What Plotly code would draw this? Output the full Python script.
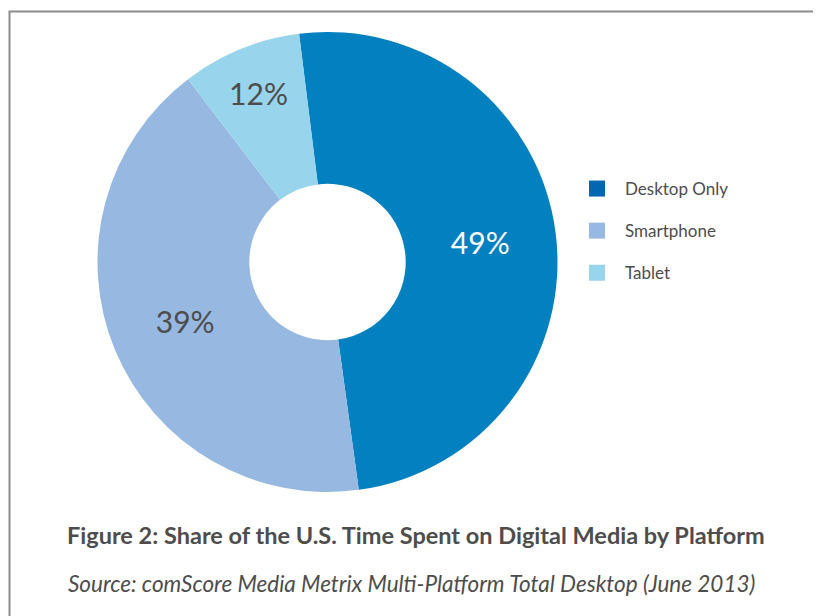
import plotly.graph_objects as go

# Data
platforms = ["Desktop Only", "Smartphone", "Tablet"]
slice_share = [49.8, 41.8, 8.4]          # arc sizes as drawn (percent of circle)
share_label = ["49%", "39%", "12%"]      # percentages printed on the slices

slice_colors = ["#0380c0", "#96b8e1", "#98d4ec"]
legend_colors = ["#0066b2", "#96b8e2", "#98d4ec"]
label_colors = ["#ffffff", "#4d4d4d", "#4d4d4d"]

title_text = "Figure 2: Share of the U.S. Time Spent on Digital Media by Platform"
source_text = "Source: comScore Media Metrix Multi-Platform Total Desktop (June 2013)"

W, H = 821, 616
OFF = 8  # page body margin offset


def px(x):
    return (x - OFF) / W


def py(y):
    return 1 - (y - OFF) / H


cx, cy, r = 327.5, 262.0, 230.0

fig = go.Figure()
fig.add_trace(go.Pie(
    labels=platforms,
    values=slice_share,
    text=share_label,
    texttemplate="%{text}",
    textposition="inside",
    insidetextorientation="horizontal",
    textfont=dict(family="Lato", size=30, color=label_colors),
    marker=dict(colors=slice_colors, line=dict(width=0)),
    hole=0.34,
    sort=False,
    direction="clockwise",
    rotation=-7.1,
    showlegend=False,
    domain=dict(x=[px(cx - r), px(cx + r)], y=[py(cy + r), py(cy - r)]),
))

for i, name in enumerate(platforms):
    fig.add_trace(go.Scatter(
        x=[None], y=[None], mode="markers", name=name,
        marker=dict(symbol="square", size=16, color=legend_colors[i]),
        legendgroup=name, showlegend=True, hoverinfo="skip",
    ))

fig.update_xaxes(visible=False)
fig.update_yaxes(visible=False)

fig.add_shape(type="rect", xref="paper", yref="paper",
              x0=px(9.5), x1=px(816), y0=-0.1, y1=py(11.5),
              line=dict(color="#8c8c8c", width=2), fillcolor="rgba(0,0,0,0)", layer="below")

fig.add_annotation(text="<b>" + title_text + "</b>", xref="paper", yref="paper",
                   x=px(416), y=py(535), showarrow=False, xanchor="center", yanchor="middle",
                   font=dict(family="Lato", size=23.5, color="#4d4d4d"))
fig.add_annotation(text="<i>" + source_text + "</i>", xref="paper", yref="paper",
                   x=px(411), y=py(583), showarrow=False, xanchor="center", yanchor="middle",
                   font=dict(family="Lato", size=22.5, color="#4d4d4d"))

fig.update_layout(
    width=W, height=H,
    margin=dict(l=0, r=0, t=0, b=0),
    paper_bgcolor="white", plot_bgcolor="white",
    legend=dict(x=px(569), xanchor="left", y=py(231), yanchor="middle",
                font=dict(family="Lato", size=17, color="#4d4d4d"),
                itemwidth=46, tracegroupgap=17, bgcolor="rgba(0,0,0,0)"),
)

fig.write_html("out.html")
